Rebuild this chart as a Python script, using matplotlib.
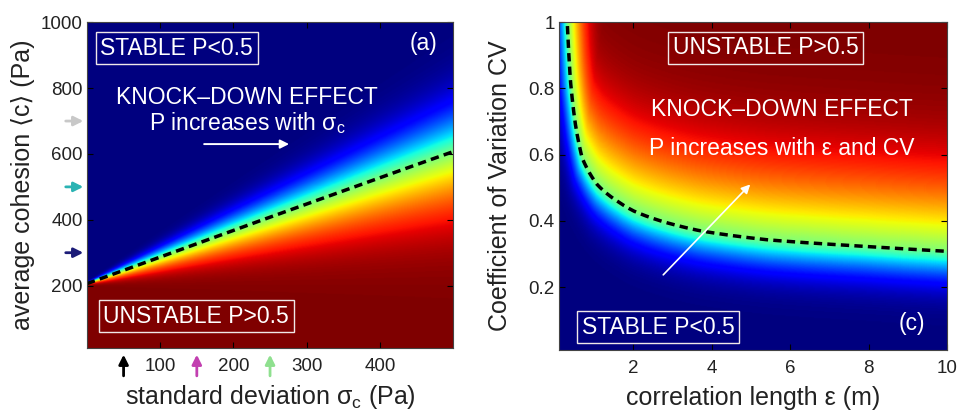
import math
import numpy as np
import matplotlib
matplotlib.use('Agg')
import matplotlib.pyplot as plt
from matplotlib.transforms import blended_transform_factory

plt.rcParams['font.family'] = ['Liberation Sans', 'DejaVu Sans']
plt.rcParams['mathtext.fontset'] = 'custom'
plt.rcParams['mathtext.rm'] = 'Liberation Sans'
plt.rcParams['mathtext.it'] = 'Liberation Sans'
plt.rcParams['mathtext.bf'] = 'Liberation Sans:bold'

# ---------------- data: panel (a) ----------------
sigma_pts = [0, 100, 200, 300, 400, 500]          # standard deviation (Pa)
c50_pts = [206, 287, 368, 448, 528, 607]           # cohesion where P = 0.5 (Pa)
spread_stable_a = 0.26                             # transition width / sigma, stable side
spread_unstable_a = 0.33                           # transition width / sigma, unstable side
sigma_range = [0, 500]
cohesion_range = [10, 1000]
xticks_a = [100, 200, 300, 400]
yticks_a = [200, 400, 600, 800, 1000]
cohesion_marks = [700, 500, 300]
cohesion_mark_colors = ['#c8c8c8', '#2bb3b3', '#1c1c78']
sigma_marks = [50, 150, 250]
sigma_mark_colors = ['black', '#c23fb0', '#8fe08f']

# ---------------- data: panel (c) ----------------
eps_pts = [0.31, 0.39, 0.52, 0.69, 1.07, 1.58, 2.0, 2.43, 3.7, 5.4, 7.95, 10.0]
cv50_pts = [1.0, 0.825, 0.69, 0.59, 0.51, 0.46, 0.43, 0.41, 0.37, 0.343, 0.323, 0.308]
width_stable_c = [0.25, 0.085]                     # transition width (eps, CV), stable side
width_unstable_c = [0.40, 0.22]                    # transition width (eps, CV), unstable side
eps_range = [0.1, 10]
cv_range = [0.01, 1]
xticks_c = [2, 4, 6, 8, 10]
yticks_c = [0.2, 0.4, 0.6, 0.8, 1]
yticklabels_c = ['0.2', '0.4', '0.6', '0.8', '1']

_erf = np.vectorize(math.erf)


def phi(z):
    return 0.5 * (1 + _erf(z / np.sqrt(2)))


# ---- field (a)
sig = np.linspace(sigma_range[0], sigma_range[1], 500)
coh = np.linspace(cohesion_range[0], cohesion_range[1], 500)
S, C = np.meshgrid(sig, coh)
c50 = np.interp(S, sigma_pts, c50_pts)
width = np.where(C > c50, spread_stable_a, spread_unstable_a) * S + 3
P_a = phi((c50 - C) / width)

# ---- field (c)
leps = np.log(eps_pts)
lcv = np.log(cv50_pts)


def cv50_of(e):
    le = np.log(e)
    out = np.interp(le, leps, lcv)
    s0 = (lcv[1] - lcv[0]) / (leps[1] - leps[0])
    s1 = (lcv[-1] - lcv[-2]) / (leps[-1] - leps[-2])
    out = np.where(le < leps[0], lcv[0] + s0 * (le - leps[0]), out)
    out = np.where(le > leps[-1], lcv[-1] + s1 * (le - leps[-1]), out)
    return np.exp(out)


ee = np.exp(np.linspace(np.log(0.05), np.log(12), 900))
cc = cv50_of(ee)
keep = cc < 3.5
ee, cc = ee[keep], cc[keep]
eps = np.linspace(eps_range[0], eps_range[1], 420)
cv = np.linspace(cv_range[0], cv_range[1], 320)


def norm_dist(we, wc):
    out = np.empty((cv.size, eps.size))
    for i, v in enumerate(cv):
        dx = (eps[:, None] - ee[None, :]) / we
        dy = (v - cc[None, :]) / wc
        out[i] = np.sqrt((dx ** 2 + dy ** 2).min(axis=1))
    return out


D_s = norm_dist(*width_stable_c)
D_u = norm_dist(*width_unstable_c)
above = cv[:, None] > cv50_of(eps)[None, :]
Z = np.where(above, D_u, -D_s)
P_c = phi(Z)

# ---------------- figure ----------------
fig = plt.figure(figsize=(9.61, 4.13), dpi=100)
axa = fig.add_axes([0.0905, 0.157, 0.381, 0.789])
axc = fig.add_axes([0.5817, 0.1525, 0.4037, 0.794])

txt_kw = dict(color='white', fontsize=16.5, ha='center', va='center')
base_kw = dict(color='white', fontsize=16.5, ha='center', va='baseline')
box = dict(boxstyle='square,pad=0.2', fc='none', ec='#f0e8e8', lw=1.0)
dash = (0, (2.4, 1.5))

# panel (a)
axa.imshow(P_a, origin='lower', aspect='auto', cmap='jet', vmin=0, vmax=1,
           extent=[sigma_range[0], sigma_range[1], cohesion_range[0], cohesion_range[1]],
           interpolation='bilinear')
axa.plot(sig, np.interp(sig, sigma_pts, c50_pts), color='black', ls=dash, lw=2.5)
axa.set_xlim(sigma_range)
axa.set_ylim(cohesion_range)
axa.set_xticks(xticks_a)
axa.set_yticks(yticks_a)
axa.text(0.245, 0.92, 'STABLE P<0.5', transform=axa.transAxes, bbox=box, **txt_kw)
axa.text(0.298, 0.098, 'UNSTABLE P>0.5', transform=axa.transAxes, bbox=box, **txt_kw)
axa.text(0.918, 0.935, '(a)', transform=axa.transAxes, **txt_kw)
axa.text(0.437, 0.748, 'KNOCK\u2013DOWN EFFECT', transform=axa.transAxes, **base_kw)
axa.text(0.437, 0.670, r'P increases with $\sigma_c$', transform=axa.transAxes, **base_kw)
axa.annotate('', xy=(276, 630), xytext=(160, 630),
             arrowprops=dict(arrowstyle='-|>', color='white', lw=1.4, mutation_scale=13,
                             shrinkA=0, shrinkB=0))
axa.set_xlabel(r'standard deviation $\sigma_c$ (Pa)', fontsize=18, labelpad=6)
axa.set_ylabel('average cohesion \u27e8c\u27e9 (Pa)', fontsize=18, labelpad=4)

tr_y = blended_transform_factory(axa.transAxes, axa.transData)
for yv, col in zip(cohesion_marks, cohesion_mark_colors):
    axa.annotate('', xy=(-0.010, yv), xytext=(-0.058, yv), xycoords=tr_y, textcoords=tr_y,
                 annotation_clip=False,
                 arrowprops=dict(arrowstyle='-|>', color=col, lw=2.0, mutation_scale=14,
                                 shrinkA=0, shrinkB=0))
tr_x = blended_transform_factory(axa.transData, axa.transAxes)
for xv, col in zip(sigma_marks, sigma_mark_colors):
    axa.annotate('', xy=(xv, -0.020), xytext=(xv, -0.085), xycoords=tr_x, textcoords=tr_x,
                 annotation_clip=False,
                 arrowprops=dict(arrowstyle='-|>', color=col, lw=2.0, mutation_scale=14,
                                 shrinkA=0, shrinkB=0))

# panel (c)
axc.imshow(P_c, origin='lower', aspect='auto', cmap='jet', vmin=0, vmax=1,
           extent=[eps_range[0], eps_range[1], cv_range[0], cv_range[1]],
           interpolation='bilinear')
eline = np.exp(np.linspace(np.log(0.28), np.log(10), 400))
axc.plot(eline, cv50_of(eline), color='black', ls=dash, lw=2.5)
axc.set_xlim(eps_range)
axc.set_ylim(cv_range)
axc.set_xticks(xticks_c)
axc.set_yticks(yticks_c)
axc.set_yticklabels(yticklabels_c)
axc.text(0.533, 0.922, 'UNSTABLE P>0.5', transform=axc.transAxes, bbox=box, **txt_kw)
axc.text(0.255, 0.07, 'STABLE P<0.5', transform=axc.transAxes, bbox=box, **txt_kw)
axc.text(0.909, 0.082, '(c)', transform=axc.transAxes, **txt_kw)
axc.text(0.575, 0.715, 'KNOCK\u2013DOWN EFFECT', transform=axc.transAxes, **base_kw)
axc.text(0.575, 0.596, 'P increases with \u03b5 and CV', transform=axc.transAxes, **base_kw)
axc.annotate('', xy=(4.98, 0.51), xytext=(2.76, 0.237),
             arrowprops=dict(arrowstyle='-|>', color='white', lw=1.2, mutation_scale=13,
                             shrinkA=0, shrinkB=0))
axc.set_xlabel('correlation length \u03b5 (m)', fontsize=18, labelpad=7)
axc.set_ylabel('Coefficient of Variation CV', fontsize=18, labelpad=12)

for ax in (axa, axc):
    ax.tick_params(direction='in', length=4, width=0.8, top=True, right=True,
                   labelsize=13.5, colors='black', labelcolor='#222222')
    ax.tick_params(axis='x', pad=7)
    ax.tick_params(axis='y', pad=3)
    for sp in ax.spines.values():
        sp.set_color('#444444')
        sp.set_linewidth(0.8)
    ax.xaxis.label.set_color('#222222')
    ax.yaxis.label.set_color('#222222')

fig.savefig('out.png', dpi=100)
